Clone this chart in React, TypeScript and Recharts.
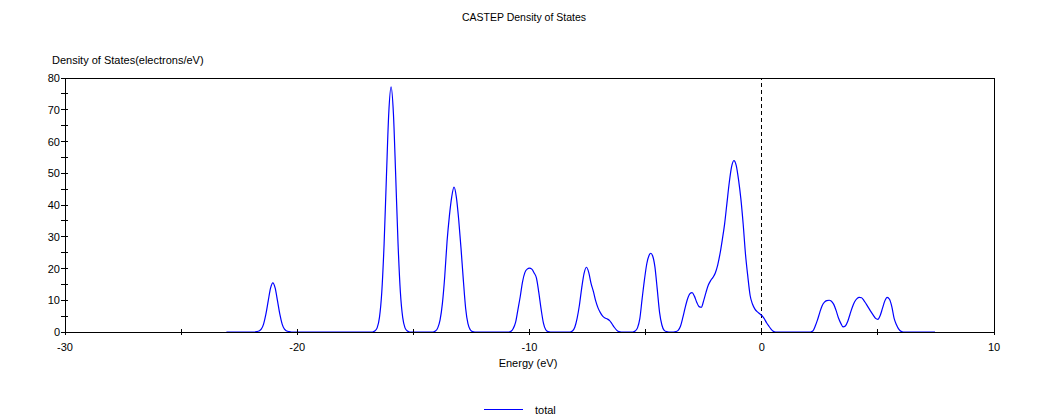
import { LineChart, Line, XAxis, YAxis, ReferenceLine } from "recharts"

// Energy grid (eV) and total DOS (electrons/eV)
const energy = [
  -23.05,
  -21.85, -21.75, -21.65, -21.55, -21.45, -21.35, -21.25, -21.15, -21.05, -20.95, -20.85, -20.75, -20.65, -20.55, -20.45, -20.35, -20.25,
  -16.76, -16.66, -16.56, -16.46, -16.36, -16.26, -16.16, -16.06, -15.96, -15.86, -15.76, -15.66, -15.56, -15.46, -15.36, -15.26, -15.16,
  -14.15, -14.05, -13.95, -13.85, -13.75, -13.65, -13.55, -13.45, -13.35, -13.25, -13.15, -13.05, -12.95, -12.85, -12.75, -12.65, -12.55, -12.45, -12.35,
  -10.9, -10.8, -10.7, -10.6, -10.5, -10.4, -10.3, -10.2, -10.1, -10.0, -9.9, -9.8, -9.7, -9.6, -9.5, -9.4, -9.3, -9.2, -9.1,
  -8.25, -8.15, -8.05, -7.95, -7.85, -7.75, -7.65, -7.55, -7.45, -7.35, -7.25, -7.15, -7.05, -6.95, -6.85, -6.75, -6.65, -6.55, -6.45, -6.35, -6.25, -6.15, -6.05,
  -5.55, -5.45, -5.35, -5.25, -5.15, -5.05, -4.95, -4.85, -4.78, -4.7, -4.6, -4.5, -4.4, -4.3, -4.2, -4.1, -4.0,
  -3.8, -3.7, -3.6, -3.5, -3.4, -3.3, -3.2, -3.1, -3.0, -2.9, -2.8, -2.7, -2.6, -2.5, -2.4, -2.3, -2.2, -2.1, -2.0,
  -1.9, -1.8, -1.7, -1.6, -1.5, -1.4, -1.3, -1.2, -1.1, -1.0, -0.9, -0.8, -0.7, -0.6, -0.5, -0.4, -0.3, -0.2, -0.1,
  0.0, 0.1, 0.2, 0.3, 0.4, 0.5, 0.6,
  2.1, 2.2, 2.3, 2.4, 2.5, 2.6, 2.7, 2.8, 2.9, 3.0, 3.1, 3.2, 3.3, 3.4, 3.5, 3.6, 3.7, 3.8, 3.9, 4.0,
  4.1, 4.2, 4.3, 4.4, 4.5, 4.6, 4.7, 4.8, 4.9, 5.0, 5.1, 5.2, 5.3, 5.4, 5.5, 5.6, 5.7, 5.8, 5.9, 6.0, 6.1,
  7.46,
]

const dos = [
  0,
  0, 0.1, 0.3, 0.9, 2.5, 5.6, 9.8, 13.8, 15.5, 13.8, 9.8, 5.6, 2.5, 0.9, 0.3, 0.1, 0,
  0, 0.3, 1.3, 4.6, 12.6, 27.8, 49.0, 68.9, 77.2, 68.9, 49.0, 27.8, 12.6, 4.6, 1.3, 0.3, 0,
  0, 0.3, 1.3, 3.8, 9.0, 17.5, 28.5, 36.5, 42.5, 45.6, 42.5, 35.5, 26.5, 16.5, 7.5, 2.6, 0.7, 0.1, 0,
  0, 0.2, 1.1, 3.0, 7.0, 11.1, 15.8, 18.7, 19.8, 20.1, 19.8, 18.6, 17.0, 12.5, 7.2, 2.8, 0.7, 0.1, 0,
  0, 0.3, 1.5, 4.3, 8.5, 14.0, 18.5, 20.4, 18.8, 15.3, 12.8, 9.8, 7.6, 6.1, 5.0, 4.4, 4.1, 3.6, 2.6, 1.5, 0.6, 0.1, 0,
  0, 0.3, 1.3, 4.2, 10.5, 16.5, 21.5, 24.2, 24.8, 24.0, 20.5, 13.5, 6.2, 2.2, 0.5, 0.1, 0,
  0, 0.1, 0.5, 1.8, 4.5, 7.6, 10.3, 12.0, 12.4, 11.3, 9.4, 8.0, 7.8, 9.9, 12.5, 14.8, 16.2, 17.2, 18.6,
  21.0, 24.5, 29.0, 34.0, 40.5, 47.0, 52.0, 54.0, 52.5, 48.0, 42.0, 34.0, 24.5, 17.5, 11.5, 8.8, 7.3, 6.4, 5.8,
  5.2, 4.3, 3.0, 1.9, 0.9, 0.2, 0,
  0, 0.3, 1.8, 3.8, 6.2, 8.3, 9.4, 9.9, 10.0, 9.7, 8.7, 6.8, 4.5, 2.8, 1.6, 1.9, 3.3, 5.6, 7.8, 9.5,
  10.5, 10.9, 10.8, 9.9, 8.8, 7.6, 6.4, 5.3, 4.3, 4.0, 5.2, 7.5, 9.8, 10.9, 10.3, 8.0, 4.3, 2.3, 0.9, 0.2, 0,
  0,
]

const xTicks = [-30, -25, -20, -15, -10, -5, 0, 5, 10]
const yTicks = [0, 5, 10, 15, 20, 25, 30, 35, 40, 45, 50, 55, 60, 65, 70, 75, 80]

const data = energy.map((e, i) => ({ energy: e, total: dos[i] }))

const FONT = "'Liberation Sans', Arial, sans-serif"
const PLOT_LEFT = 57
const PLOT_BOTTOM = 324

function XTick(props: any) {
  const { x, payload } = props
  const major = payload.value % 10 === 0
  return (
    <g>
      <line x1={x} x2={x} y1={PLOT_BOTTOM - 3} y2={PLOT_BOTTOM + 3} stroke="#000" shapeRendering="crispEdges" />
      {major && (
        <text x={x} y={PLOT_BOTTOM + 19} textAnchor="middle" fontSize={11} fontFamily={FONT} fill="#000">
          {payload.value}
        </text>
      )}
    </g>
  )
}

function YTick(props: any) {
  const { y, payload } = props
  const major = payload.value % 10 === 0
  return (
    <g>
      <line x1={PLOT_LEFT - 4} x2={PLOT_LEFT + 3} y1={y} y2={y} stroke="#000" shapeRendering="crispEdges" />
      {major && (
        <text x={PLOT_LEFT - 5} y={y + 4} textAnchor="end" fontSize={11} fontFamily={FONT} fill="#000">
          {payload.value}
        </text>
      )}
    </g>
  )
}

export default function App() {
  return (
    <div style={{ position: "relative", width: 1040, height: 411, background: "#fff", fontFamily: FONT, fontSize: 11, color: "#000" }}>
      <div style={{ position: "absolute", left: 516, top: 3, transform: "translateX(-50%)", whiteSpace: "nowrap", lineHeight: "13px", fontSize: 10.5 }}>
        CASTEP Density of States
      </div>
      <div style={{ position: "absolute", left: 44, top: 46, whiteSpace: "nowrap", lineHeight: "13px" }}>
        Density of States(electrons/eV)
      </div>
      <LineChart width={1040} height={403} data={data} margin={{ top: 70, right: 54, bottom: 49, left: 17 }}>
        <XAxis
          dataKey="energy"
          type="number"
          domain={[-30, 10]}
          ticks={xTicks}
          interval={0}
          tick={(p: any) => <XTick {...p} />}
          tickLine={false}
          axisLine={{ stroke: "#000", shapeRendering: "crispEdges" }}
          height={30}
        />
        <YAxis
          type="number"
          domain={[0, 80]}
          ticks={yTicks}
          interval={0}
          tick={(p: any) => <YTick {...p} />}
          tickLine={false}
          axisLine={{ stroke: "#000", shapeRendering: "crispEdges" }}
          width={40}
        />
        <ReferenceLine y={80} stroke="#000" shapeRendering="crispEdges" />
        <ReferenceLine x={10} stroke="#000" shapeRendering="crispEdges" />
        <ReferenceLine x={0} stroke="#000" strokeDasharray="4 3" shapeRendering="crispEdges" />
        <Line
          dataKey="total"
          type="monotone"
          stroke="#0000ff"
          strokeWidth={1.2}
          dot={false}
          activeDot={false}
          isAnimationActive={false}
        />
      </LineChart>
      <div style={{ position: "absolute", left: 520, top: 349, transform: "translateX(-50%)", whiteSpace: "nowrap", lineHeight: "13px" }}>
        Energy (eV)
      </div>
      <div style={{ position: "absolute", left: 476, top: 401, width: 39, height: 1, background: "#0000ff" }} />
      <div style={{ position: "absolute", left: 527, top: 396, whiteSpace: "nowrap", lineHeight: "13px" }}>
        total
      </div>
    </div>
  )
}
